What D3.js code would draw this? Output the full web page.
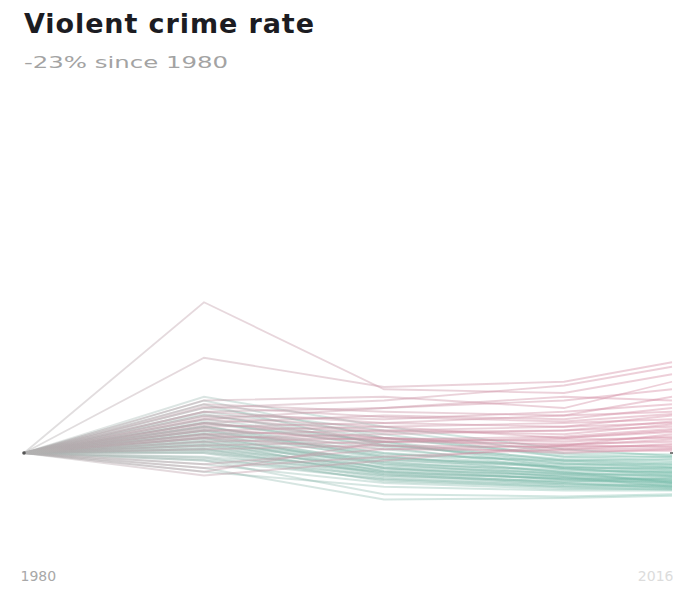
<!DOCTYPE html>
<html>
<head>
<meta charset="utf-8">
<script src="https://cdn.jsdelivr.net/npm/d3@7"></script>
<style>
  html, body { margin: 0; padding: 0; background: #fff; }
  svg { display: block; }
</style>
</head>
<body>
<div id="chart"></div>
<script>
// ---- data ----
const years = [1980, 1990, 2000, 2010, 2016];
const xTickValues = [1980, 2016];
const title = "Violent crime rate";
const subtitle = "-23% since 1980";

// percent change since 1980, one row per city (1980 = 0)
const risingSeries = [
  [0, 201, 85, 80, 105],
  [0, 127, 88, 95, 121],
  [0, 60, 70, 90, 115],
  [0, 70, 75, 60, 95],
  [0, 55, 60, 70, 85],
  [0, 65, 55, 50, 75],
  [0, 45, 60, 75, 70],
  [0, 50, 45, 55, 65],
  [0, 40, 50, 45, 60],
  [0, 35, 40, 50, 55],
  [0, 55, 40, 35, 50],
  [0, 30, 35, 40, 45],
  [0, 25, 30, 35, 40],
  [0, 45, 30, 25, 38],
  [0, 20, 25, 30, 35],
  [0, -25, 15, 20, 30],
  [0, -30, -10, 10, 25],
  [0, 15, 20, 15, 22],
  [0, 30, 20, 10, 18],
  [0, 10, 15, 12, 15],
  [0, 40, 20, 5, 12],
  [0, 5, 10, 8, 10],
  [0, -15, 5, 10, 8],
  [0, 25, 10, 0, 5],
  [0, 20, 5, 3, 3],
  [0, 62, 48, 42, 52],
  [0, 38, 28, 30, 42],
  [0, 48, 35, 20, 28],
  [0, 22, 18, 22, 32],
  [0, -20, -5, 5, 6],
  [0, 33, 15, 18, 20]
];
const fallingSeries = [
  [0, 50, 20, -5, -5],
  [0, 45, 15, -10, -8],
  [0, 40, 10, -8, -12],
  [0, 35, 5, -15, -15],
  [0, 30, 0, -12, -18],
  [0, 25, -5, -20, -20],
  [0, 20, -10, -18, -22],
  [0, 30, -8, -25, -25],
  [0, 15, -15, -22, -27],
  [0, 10, -12, -28, -28],
  [0, 25, -20, -30, -30],
  [0, 5, -18, -27, -32],
  [0, 20, -25, -35, -33],
  [0, 0, -22, -30, -35],
  [0, 15, -28, -33, -36],
  [0, 10, -30, -38, -38],
  [0, -5, -25, -35, -40],
  [0, 5, -32, -40, -42],
  [0, -10, -35, -42, -44],
  [0, 0, -38, -45, -46],
  [0, -15, -40, -48, -48],
  [0, -20, -62, -60, -57],
  [0, -10, -55, -58, -55],
  [0, -25, -45, -50, -50],
  [0, 35, 0, -20, -25],
  [0, 60, 30, 0, -2],
  [0, 55, 25, -5, -10],
  [0, 40, 15, -20, -30],
  [0, 18, -12, -25, -40],
  [0, 8, -20, -32, -45],
  [0, -8, -30, -38, -34],
  [0, 12, -8, -15, -20],
  [0, 28, -2, -10, -14],
  [0, 22, -16, -28, -38],
  [0, 3, -26, -40, -47],
  [0, 75, 35, 5, -4],
  [0, 70, 20, -2, -6],
  [0, 65, 10, -10, -16],
  [0, 42, 8, -22, -26],
  [0, 32, -4, -26, -31],
  [0, 26, -14, -32, -37],
  [0, 16, -20, -36, -41],
  [0, 6, -28, -42, -43],
  [0, 52, 12, -14, -19],
  [0, 36, -6, -18, -23],
  [0, 12, -24, -34, -39],
  [0, 2, -34, -44, -45],
  [0, -6, -36, -46, -49]
];

// ---- layout ----
const W = 673, H = 590;
const svg = d3.select("#chart").append("svg")
  .attr("width", W).attr("height", H);

const x = d3.scaleLinear().domain([1980, 2016]).range([24, 672]);
const y = d3.scaleLinear().domain([-100, 200]).range([528, 303]);

const defs = svg.append("defs");
function grad(id, endColor) {
  const g = defs.append("linearGradient").attr("id", id)
    .attr("gradientUnits", "userSpaceOnUse")
    .attr("x1", x(1980)).attr("x2", x(2016)).attr("y1", 0).attr("y2", 0);
  g.append("stop").attr("offset", "0%").attr("stop-color", "#b0b0b0");
  g.append("stop").attr("offset", "35%").attr("stop-color", d3.interpolateRgb("#b0b0b0", endColor)(0.55));
  g.append("stop").attr("offset", "100%").attr("stop-color", endColor);
}
grad("gRise", "#d4869f");
grad("gFall", "#6fb8a5");
defs.append("filter").attr("id", "soft")
  .attr("x", "-5%").attr("y", "-5%").attr("width", "110%").attr("height", "110%")
  .append("feGaussianBlur").attr("stdDeviation", 0.6);

const line = d3.line()
  .x((d, i) => x(years[i]))
  .y(d => y(d));

const plot = svg.append("g").attr("filter", "url(#soft)");

plot.append("g").selectAll("path.fall")
  .data(fallingSeries).join("path")
  .attr("class", "fall")
  .attr("d", line)
  .attr("fill", "none")
  .attr("stroke", "url(#gFall)")
  .attr("stroke-width", 2)
  .attr("stroke-opacity", 0.34);

plot.append("g").selectAll("path.rise")
  .data(risingSeries).join("path")
  .attr("class", "rise")
  .attr("d", line)
  .attr("fill", "none")
  .attr("stroke", "url(#gRise)")
  .attr("stroke-width", 1.8)
  .attr("stroke-opacity", 0.4);

// origin dot and end tick
svg.append("circle").attr("cx", x(1980)).attr("cy", y(0)).attr("r", 1.8).attr("fill", "#555");
svg.append("line").attr("x1", x(2016) - 2).attr("x2", x(2016) + 2)
  .attr("y1", y(0)).attr("y2", y(0)).attr("stroke", "#555").attr("stroke-width", 1.5);

// titles
svg.append("text").attr("x", 24).attr("y", 33)
  .attr("font-family", "DejaVu Sans, Verdana, sans-serif")
  .attr("font-weight", "bold").attr("font-size", 27)
  .attr("textLength", 290).attr("lengthAdjust", "spacing")
  .attr("fill", "#1c1c22").text(title);
svg.append("text").attr("x", 24).attr("y", 68)
  .attr("font-family", "DejaVu Sans, Verdana, sans-serif")
  .attr("font-size", 16)
  .attr("textLength", 204).attr("lengthAdjust", "spacingAndGlyphs")
  .attr("fill", "#a3a3a3").text(subtitle);

// x axis labels
const xAxis = d3.axisBottom(x).tickValues(xTickValues).tickSize(0).tickFormat(d3.format("d"));
const ax = svg.append("g").attr("transform", "translate(0,568)").call(xAxis);
ax.select(".domain").remove();
ax.selectAll("text")
  .attr("font-family", "DejaVu Sans, Verdana, sans-serif")
  .attr("font-size", 14)
  .attr("fill", (d, i) => i === 0 ? "#a8a8a8" : "#dcdcdc")
  .attr("text-anchor", (d, i) => i === 0 ? "start" : "end")
  .attr("dx", (d, i) => i === 0 ? -4 : 1);
</script>
</body>
</html>
